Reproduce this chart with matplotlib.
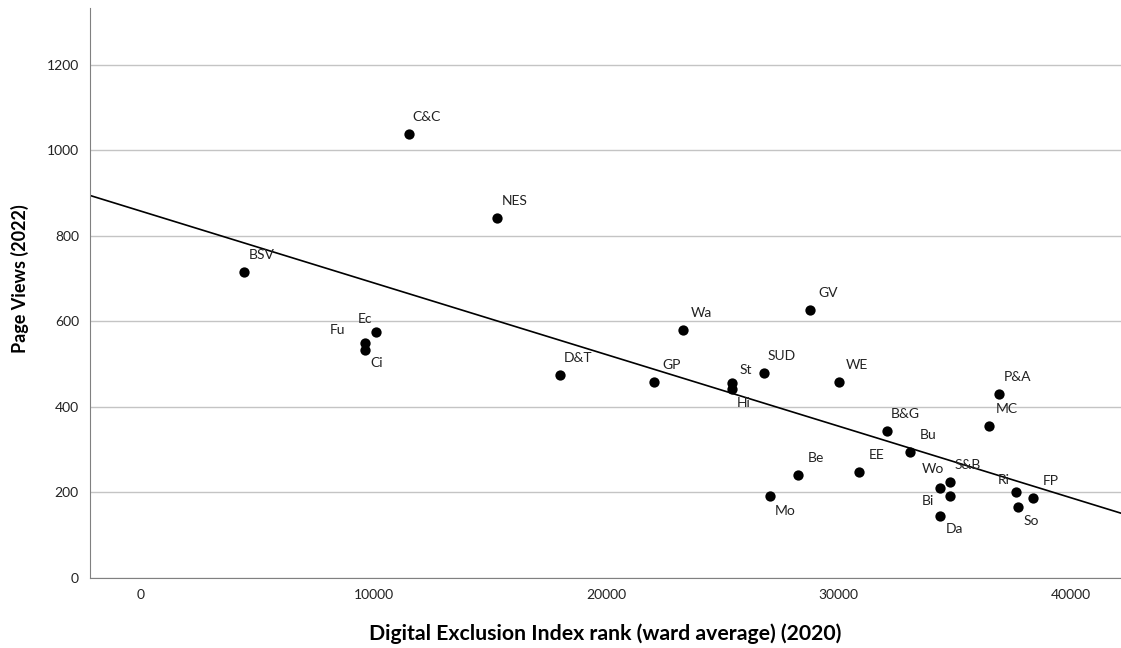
import numpy as np
import matplotlib
matplotlib.use('Agg')
import matplotlib.pyplot as plt

plt.rcParams['font.family'] = ['Lato', 'DejaVu Sans']

# ward codes, digital exclusion rank and page views
labels = ['C&C', 'NES', 'BSV', 'Ec', 'Fu', 'Ci', 'D&T', 'GP', 'Wa', 'St', 'Hi',
          'SUD', 'GV', 'WE', 'P&A', 'MC', 'B&G', 'Bu', 'EE', 'Be', 'Mo', 'Wo',
          'S&B', 'Bi', 'Da', 'Ri', 'FP', 'So']
dei_rank = [11527, 15312, 4430, 10108, 9634, 9634, 18022, 22065, 23312, 25419, 25419,
            26796, 28774, 30022, 36903, 36473, 32086, 33075, 30882, 28258, 27054, 34366,
            34796, 34796, 34366, 37634, 38366, 37720]
page_views = [1039, 842, 716, 575, 549, 533, 475, 458, 580, 455, 442,
              480, 627, 458, 430, 356, 344, 295, 248, 241, 192, 211,
              225, 192, 145, 201, 187, 166]

# label offsets (pixels) from each dot, default upper right
offsets = {'Ec': (-11, 13), 'Fu': (-28, 13), 'Ci': (12, -13), 'St': (14, 13),
           'Hi': (12, -14), 'Mo': (15, -15), 'Wo': (-7, 19), 'Bi': (-22, -5),
           'Da': (14, -13), 'Ri': (-12, 12), 'So': (13, -14)}

x = np.array(dei_rank, dtype=float)
y = np.array(page_views, dtype=float)

fig = plt.figure(figsize=(11.21, 6.48), dpi=100)
ax = fig.add_axes([0.0803, 0.108, 0.9197, 0.88])

ax.set_xlim(-2194, 42150)
ax.set_ylim(0, 1333)

ax.set_yticks(np.arange(0, 1201, 200))
ax.set_xticks(np.arange(0, 40001, 10000))
ax.yaxis.grid(True, color='#c4c4c4', linewidth=1.0)
ax.set_axisbelow(True)

ax.scatter(x, y, s=55, color='black', zorder=3, linewidths=0)

# linear fit line
slope, intercept = np.polyfit(x, y, 1)
xl = np.array(ax.get_xlim())
ax.plot(xl, intercept + slope * xl, color='black', linewidth=1.2, zorder=2)

for lab, xi, yi in zip(labels, x, y):
    dx, dy = offsets.get(lab, (18, 17))
    ax.annotate(lab, (xi, yi), xytext=(dx * 0.72, dy * 0.72), textcoords='offset points',
                ha='center', va='center', fontsize=10, color='#222222')

for side in ['top', 'right']:
    ax.spines[side].set_visible(False)
for side in ['left', 'bottom']:
    ax.spines[side].set_color('#808080')
ax.tick_params(length=0, labelsize=10, colors='#222222', pad=8)

ax.set_xlabel('Digital Exclusion Index rank (ward average) (2020)', fontsize=15.3,
              fontweight='bold', labelpad=16)
ax.set_ylabel('Page Views (2022)', fontsize=13, fontweight='bold', labelpad=13, y=0.525)

fig.savefig('out.png', dpi=100)
